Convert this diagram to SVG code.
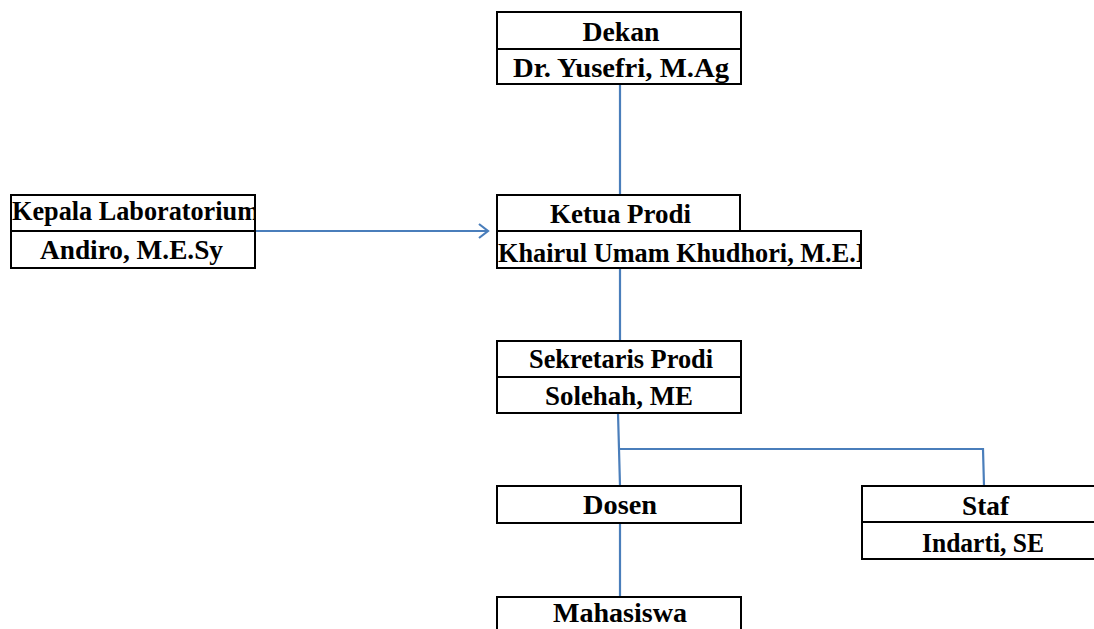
<svg xmlns="http://www.w3.org/2000/svg" width="1094" height="629" viewBox="0 0 1094 629">
  <style>
    .box { fill: #ffffff; stroke: #000000; stroke-width: 2; }
    .lbl { font-family: "Liberation Serif", "Times New Roman", serif; font-weight: bold; font-size: 28px; fill: #000000; }
    .mid { text-anchor: middle; }
    .link { fill: none; stroke: #4a7ebb; stroke-width: 2.2; }
  </style>
  <defs>
    <marker id="openArrow" markerWidth="14" markerHeight="16" refX="12" refY="8" orient="auto" markerUnits="userSpaceOnUse">
      <path d="M3,1 L12,8 L3,15" fill="none" stroke="#4a7ebb" stroke-width="2.2"/>
    </marker>
    <clipPath id="clipLab"><rect x="11" y="195" width="244" height="73"/></clipPath>
    <clipPath id="clipKetua"><rect x="497" y="230" width="364" height="38"/></clipPath>
  </defs>

  <rect width="1094" height="629" fill="#ffffff"/>

  <!-- connectors -->
  <g id="connectors">
    <line class="link" x1="620" y1="84" x2="620" y2="195"/>
    <line class="link" x1="255" y1="231" x2="488" y2="231" marker-end="url(#openArrow)"/>
    <line class="link" x1="620" y1="268" x2="620" y2="341"/>
    <polyline class="link" points="618,413 619,449 620,486"/>
    <polyline class="link" points="619,449 983,449 984,486"/>
    <line class="link" x1="620" y1="523" x2="620" y2="597"/>
  </g>

  <!-- Dekan -->
  <g id="dekan">
    <rect class="box" x="497" y="12" width="244" height="37"/>
    <rect class="box" x="497" y="49" width="244" height="35"/>
    <text class="lbl mid" x="621" y="41" textLength="77" lengthAdjust="spacingAndGlyphs">Dekan</text>
    <text class="lbl mid" x="621" y="77" textLength="216" lengthAdjust="spacingAndGlyphs">Dr. Yusefri, M.Ag</text>
  </g>

  <!-- Kepala Laboratorium -->
  <g id="kepala-lab">
    <rect class="box" x="11" y="195" width="244" height="36"/>
    <rect class="box" x="11" y="231" width="244" height="37"/>
    <g clip-path="url(#clipLab)">
      <text class="lbl" x="12" y="220" textLength="247" lengthAdjust="spacingAndGlyphs">Kepala Laboratorium</text>
    </g>
    <text class="lbl mid" x="131.5" y="259" textLength="183" lengthAdjust="spacingAndGlyphs">Andiro, M.E.Sy</text>
  </g>

  <!-- Ketua Prodi -->
  <g id="ketua-prodi">
    <rect class="box" x="497" y="195" width="243" height="36"/>
    <rect class="box" x="497" y="231" width="364" height="37"/>
    <text class="lbl mid" x="620.5" y="223" textLength="141" lengthAdjust="spacingAndGlyphs">Ketua Prodi</text>
    <g clip-path="url(#clipKetua)">
      <text class="lbl" x="498" y="262" textLength="368" lengthAdjust="spacingAndGlyphs">Khairul Umam Khudhori, M.E.I</text>
    </g>
  </g>

  <!-- Sekretaris Prodi -->
  <g id="sekretaris-prodi">
    <rect class="box" x="497" y="341" width="244" height="36"/>
    <rect class="box" x="497" y="377" width="244" height="36"/>
    <text class="lbl mid" x="621" y="368" textLength="184" lengthAdjust="spacingAndGlyphs">Sekretaris Prodi</text>
    <text class="lbl mid" x="619" y="405" textLength="148" lengthAdjust="spacingAndGlyphs">Solehah, ME</text>
  </g>

  <!-- Dosen -->
  <g id="dosen">
    <rect class="box" x="497" y="486" width="244" height="37"/>
    <text class="lbl mid" x="620" y="514" textLength="74" lengthAdjust="spacingAndGlyphs">Dosen</text>
  </g>

  <!-- Staf -->
  <g id="staf">
    <rect class="box" x="862" y="486" width="240" height="36"/>
    <rect class="box" x="862" y="522" width="240" height="37"/>
    <text class="lbl mid" x="985.5" y="515" textLength="47" lengthAdjust="spacingAndGlyphs">Staf</text>
    <text class="lbl mid" x="983" y="552" textLength="122" lengthAdjust="spacingAndGlyphs">Indarti, SE</text>
  </g>

  <!-- Mahasiswa -->
  <g id="mahasiswa">
    <rect class="box" x="497" y="597" width="244" height="45"/>
    <text class="lbl mid" x="620" y="622" textLength="134" lengthAdjust="spacingAndGlyphs">Mahasiswa</text>
  </g>
</svg>
